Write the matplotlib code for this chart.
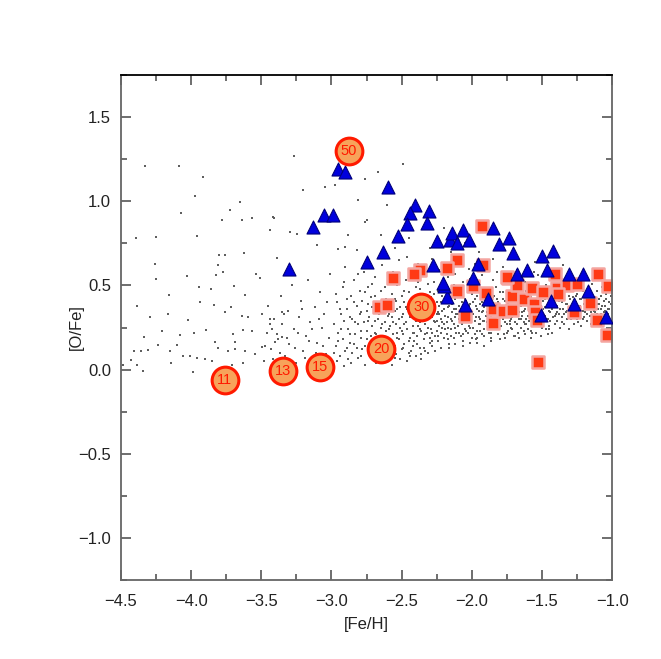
import numpy as np
import matplotlib
matplotlib.use("Agg")
import matplotlib.pyplot as plt

# background cloud of model stars (x=[Fe/H], y=[O/Fe])
cloud_txt = """
-4.329,1.208 -4.084,1.208 -3.913,1.145 -3.973,1.032 -3.650,0.998 -4.072,0.930 -3.723,0.946
-3.780,0.887 -3.640,0.891 -3.568,0.903 -3.412,0.903 -4.395,0.784 -4.250,0.790 -3.960,0.793
-3.440,0.827 -3.296,0.815 -3.800,0.683 -3.761,0.683 -3.620,0.690 -4.255,0.625 -3.806,0.619
-4.250,0.540 -4.028,0.554 -3.820,0.560 -3.775,0.580 -3.536,0.570 -3.510,0.546 -3.390,0.663
-4.156,0.445 -3.942,0.490 -3.861,0.480 -3.693,0.496 -3.616,0.446 -4.388,0.377 -3.940,0.401
-3.837,0.385 -4.291,0.315 -4.167,0.332 -4.025,0.292 -3.759,0.341 -3.716,0.371 -3.640,0.321
-3.593,0.311 -3.497,0.332 -3.438,0.302 -3.355,0.341 -4.334,0.192 -4.210,0.228 -4.077,0.208
-3.978,0.216 -3.896,0.238 -4.234,0.149 -4.103,0.149 -3.830,0.163 -3.700,0.212 -3.628,0.236
-3.568,0.232 -3.426,0.242 -3.355,0.192 -4.407,0.113 -4.357,0.109 -4.310,0.117 -4.151,0.113
-4.056,0.083 -4.008,0.083 -3.960,0.069 -3.901,0.063 -3.806,0.129 -3.735,0.113 -3.687,0.123
-3.616,0.113 -3.545,0.093 -3.497,0.133 -3.402,0.163 -4.483,0.030 -4.431,0.058 -4.388,0.030
-4.345,-0.006 -4.144,0.038 -3.985,-0.016 -3.628,0.038 -3.711,0.030 -3.854,0.054 -3.687,0.163
-3.265,1.270 -3.200,1.065 -3.046,1.085 -2.808,1.006 -2.749,0.887 -2.666,1.175 -2.488,1.224
-2.607,0.976 -3.248,0.808 -3.105,0.738 -2.880,0.798 -2.951,0.718 -2.820,0.708 -2.903,0.728
-2.761,1.135 -2.975,1.095 -3.205,1.065 -3.414,0.907 -2.761,0.877
-2.45,0.78 -2.30,0.72 -2.20,0.84 -2.05,0.75 -1.95,0.70 -1.85,0.66 -1.70,0.68 -1.55,0.64
-1.35,0.62 -2.55,0.72 -2.65,0.80 -2.15,0.70
-3.48,0.05 -3.46,0.22 -3.45,0.38 -3.43,0.12 -3.41,0.30 -3.40,0.02 -3.38,0.18 -3.36,0.44
-3.35,0.27 -3.33,0.08 -3.31,0.35 -3.30,0.15 -3.28,0.50 -3.27,0.24 -3.25,0.04 -3.23,0.31
-3.22,0.41 -3.20,0.11 -3.18,0.20 -3.17,0.53 -3.15,0.28 -3.13,0.06 -3.12,0.37 -3.10,0.16
-3.08,0.46 -3.07,0.25 -3.05,0.33 -3.04,0.09 -3.02,0.19 -3.01,0.57
-3.47,0.14 -3.44,0.27 -3.42,0.06 -3.39,0.21 -3.37,0.10 -3.34,0.33 -3.32,0.19 -3.29,0.03
-3.26,0.13 -3.24,0.22 -3.21,0.36 -3.19,0.07 -3.16,0.17 -3.14,0.24 -3.11,0.10 -3.09,0.30
-3.06,0.14 -3.03,0.40 -3.02,0.05
-2.99,0.03 -2.98,0.27 -2.97,0.14 -2.96,0.40 -2.95,0.22 -2.94,0.08 -2.93,0.33 -2.92,0.49
-2.92,0.18 -2.91,0.29 -2.90,0.11 -2.90,0.61
-2.89,0.36 -2.88,0.06 -2.88,0.24 -2.87,0.16 -2.86,0.44 -2.85,0.30 -2.85,0.10 -2.84,0.53
-2.83,0.21 -2.82,0.38 -2.82,0.13 -2.81,0.27 -2.80,0.47 -2.80,0.33
-2.79,0.08 -2.79,0.19 -2.78,0.41 -2.77,0.28 -2.77,0.58 -2.76,0.14 -2.75,0.35 -2.75,0.23
-2.74,0.49 -2.73,0.11 -2.73,0.31 -2.72,0.20 -2.72,0.43 -2.71,0.26 -2.71,0.37 -2.70,0.16
-2.69,0.55 -2.69,0.29 -2.68,0.09 -2.68,0.21 -2.67,0.39 -2.66,0.33 -2.66,0.15 -2.65,0.47
-2.65,0.25 -2.64,0.62 -2.63,0.19 -2.63,0.36 -2.62,0.12 -2.62,0.28 -2.61,0.42 -2.61,0.23
-2.60,0.32 -2.60,0.51
-2.59,0.17 -2.59,0.38 -2.58,0.26 -2.58,0.10 -2.57,0.45 -2.57,0.31 -2.56,0.21 -2.56,0.58
-2.55,0.35 -2.55,0.14 -2.54,0.27 -2.54,0.41 -2.53,0.22 -2.53,0.50 -2.52,0.30 -2.52,0.18
-2.51,0.37 -2.51,0.25 -2.50,0.44 -2.50,0.12 -2.52,0.65 -2.55,0.07
-2.49,0.33 -2.49,0.21 -2.48,0.40 -2.48,0.15 -2.47,0.28 -2.47,0.53 -2.46,0.36 -2.46,0.24
-2.45,0.10 -2.45,0.46 -2.44,0.31 -2.44,0.19 -2.43,0.38 -2.43,0.60 -2.42,0.26 -2.42,0.14
-2.42,0.43 -2.41,0.34 -2.41,0.22 -2.40,0.29 -2.40,0.49 -2.44,0.08 -2.46,0.67 -2.47,0.37
-2.41,0.17
-2.98,0.10 -2.96,0.05 -2.95,0.17 -2.93,0.24 -2.91,0.02 -2.89,0.13 -2.87,0.21 -2.86,0.04
-2.84,0.15 -2.83,0.28 -2.81,0.07 -2.79,0.23 -2.78,0.12 -2.76,0.03 -2.75,0.18 -2.74,0.29
-2.72,0.08 -2.71,0.14 -2.69,0.22 -2.68,0.04 -2.67,0.17 -2.65,0.11 -2.64,0.27 -2.62,0.06
-2.61,0.18 -2.59,0.24 -2.58,0.14 -2.57,0.03 -2.56,0.28 -2.54,0.09 -2.53,0.19 -2.51,0.06
-2.50,0.23 -2.49,0.13 -2.48,0.27 -2.46,0.05 -2.45,0.17 -2.43,0.11 -2.42,0.22 -2.40,0.08
-2.39,0.15 -2.37,0.24 -2.36,0.06 -2.34,0.13 -2.33,0.21 -2.31,0.10 -2.30,0.19
-2.97,0.45 -2.94,0.36 -2.91,0.52 -2.89,0.42 -2.87,0.31 -2.84,0.40 -2.81,0.57 -2.79,0.34
-2.76,0.46 -2.74,0.39 -2.71,0.51 -2.69,0.44 -2.67,0.30 -2.64,0.41 -2.62,0.49 -2.59,0.33
-2.57,0.54 -2.55,0.42 -2.53,0.36 -2.50,0.31 -2.48,0.47 -2.45,0.40 -2.43,0.33 -2.40,0.41
-2.38,0.52 -2.35,0.38 -2.33,0.35 -2.30,0.46
-2.39,0.32 -2.39,0.20 -2.38,0.41 -2.38,0.26 -2.37,0.13 -2.37,0.48 -2.36,0.35 -2.36,0.23
-2.35,0.29 -2.35,0.56 -2.34,0.18 -2.34,0.39 -2.33,0.27 -2.33,0.44 -2.33,0.11 -2.32,0.33
-2.32,0.22 -2.31,0.51 -2.31,0.30 -2.30,0.37 -2.30,0.16 -2.38,0.63 -2.36,0.09 -2.34,0.31
-2.32,0.42 -2.31,0.25 -2.35,0.45 -2.37,0.28
-2.29,0.24 -2.29,0.43 -2.28,0.31 -2.28,0.14 -2.27,0.36 -2.27,0.52 -2.26,0.20 -2.26,0.28
-2.25,0.40 -2.25,0.33 -2.24,0.17 -2.24,0.47 -2.23,0.26 -2.23,0.38 -2.23,0.59 -2.22,0.22
-2.22,0.30 -2.21,0.44 -2.21,0.35 -2.20,0.19 -2.20,0.27 -2.28,0.66 -2.26,0.11 -2.24,0.34
-2.22,0.49 -2.21,0.25 -2.27,0.29 -2.25,0.23
-2.19,0.32 -2.19,0.41 -2.18,0.21 -2.18,0.28 -2.17,0.37 -2.17,0.55 -2.16,0.15 -2.16,0.45
-2.15,0.30 -2.15,0.24 -2.14,0.39 -2.14,0.34 -2.13,0.19 -2.13,0.50 -2.13,0.27 -2.12,0.42
-2.12,0.31 -2.11,0.22 -2.11,0.36 -2.10,0.26 -2.10,0.47 -2.18,0.62 -2.16,0.13 -2.14,0.29
-2.12,0.57 -2.11,0.33 -2.17,0.25 -2.15,0.43
-2.09,0.30 -2.09,0.38 -2.08,0.20 -2.08,0.44 -2.07,0.27 -2.07,0.33 -2.06,0.52 -2.06,0.17
-2.05,0.36 -2.05,0.24 -2.04,0.41 -2.04,0.29 -2.03,0.22 -2.03,0.48 -2.03,0.34 -2.02,0.60
-2.02,0.26 -2.01,0.39 -2.01,0.31 -2.00,0.19 -2.00,0.45 -2.08,0.68 -2.06,0.14 -2.04,0.35
-2.02,0.28 -2.01,0.54 -2.07,0.40 -2.05,0.31
-1.99,0.33 -1.99,0.25 -1.98,0.42 -1.98,0.29 -1.97,0.18 -1.97,0.50 -1.96,0.36 -1.96,0.23
-1.95,0.31 -1.95,0.46 -1.94,0.27 -1.94,0.39 -1.93,0.21 -1.93,0.56 -1.93,0.34 -1.92,0.29
-1.92,0.43 -1.91,0.24 -1.91,0.37 -1.90,0.32 -1.90,0.48 -1.98,0.63 -1.96,0.16 -1.94,0.30
-1.92,0.62 -1.91,0.20 -1.97,0.38 -1.95,0.27
-1.89,0.28 -1.89,0.41 -1.88,0.34 -1.88,0.22 -1.87,0.47 -1.87,0.30 -1.86,0.38 -1.86,0.19
-1.85,0.26 -1.85,0.53 -1.84,0.33 -1.84,0.44 -1.83,0.24 -1.83,0.36 -1.82,0.29 -1.82,0.58
-1.81,0.40 -1.81,0.21 -1.80,0.31 -1.80,0.46 -1.88,0.60 -1.86,0.17 -1.84,0.27 -1.83,0.49
-1.82,0.35 -1.87,0.25
-1.79,0.35 -1.79,0.26 -1.78,0.42 -1.78,0.30 -1.77,0.21 -1.77,0.51 -1.76,0.37 -1.76,0.28
-1.75,0.45 -1.75,0.33 -1.74,0.23 -1.74,0.39 -1.73,0.29 -1.73,0.56 -1.72,0.36 -1.72,0.25
-1.71,0.43 -1.71,0.31 -1.70,0.20 -1.70,0.48 -1.78,0.61 -1.76,0.19 -1.75,0.34 -1.73,0.27
-1.72,0.53 -1.71,0.38
-1.69,0.33 -1.69,0.41 -1.68,0.27 -1.68,0.50 -1.67,0.36 -1.67,0.22 -1.66,0.30 -1.66,0.45
-1.65,0.38 -1.65,0.25 -1.64,0.55 -1.64,0.32 -1.63,0.42 -1.63,0.28 -1.62,0.21 -1.62,0.36
-1.61,0.47 -1.61,0.30 -1.60,0.39 -1.60,0.24 -1.68,0.59 -1.66,0.19 -1.64,0.34 -1.62,0.52
-1.61,0.27
-1.59,0.35 -1.59,0.29 -1.58,0.43 -1.58,0.23 -1.57,0.38 -1.57,0.51 -1.56,0.31 -1.56,0.26
-1.55,0.46 -1.55,0.34 -1.54,0.22 -1.54,0.40 -1.53,0.30 -1.53,0.56 -1.52,0.37 -1.52,0.27
-1.51,0.44 -1.51,0.32 -1.50,0.25 -1.50,0.49 -1.58,0.19 -1.56,0.58 -1.54,0.36 -1.52,0.41
-1.49,0.36 -1.49,0.28 -1.48,0.42 -1.48,0.32 -1.47,0.24 -1.47,0.50 -1.46,0.38 -1.46,0.30
-1.45,0.45 -1.45,0.26 -1.44,0.34 -1.44,0.53 -1.43,0.40 -1.43,0.22 -1.42,0.31 -1.42,0.47
-1.41,0.37 -1.41,0.27 -1.40,0.43 -1.40,0.33 -1.46,0.21 -1.44,0.57
-1.39,0.38 -1.39,0.29 -1.38,0.45 -1.38,0.33 -1.37,0.25 -1.37,0.51 -1.36,0.40 -1.36,0.31
-1.35,0.36 -1.35,0.47 -1.34,0.27 -1.34,0.42 -1.33,0.34 -1.33,0.55 -1.32,0.30 -1.32,0.39
-1.31,0.44 -1.31,0.24 -1.30,0.35 -1.30,0.49
-1.29,0.37 -1.29,0.30 -1.28,0.43 -1.28,0.34 -1.27,0.27 -1.27,0.49 -1.26,0.40 -1.26,0.32
-1.25,0.45 -1.25,0.36 -1.24,0.28 -1.24,0.52 -1.23,0.38 -1.23,0.33 -1.22,0.42 -1.22,0.26
-1.21,0.47 -1.21,0.35 -1.20,0.39 -1.20,0.31
-1.19,0.44 -1.19,0.34 -1.18,0.38 -1.18,0.29 -1.17,0.48 -1.17,0.41 -1.16,0.32 -1.16,0.36
-1.15,0.45 -1.15,0.27 -1.14,0.40 -1.14,0.51 -1.13,0.35 -1.13,0.30 -1.12,0.43 -1.12,0.38
-1.11,0.33 -1.11,0.47
-1.09,0.39 -1.09,0.31 -1.08,0.44 -1.08,0.36 -1.07,0.29 -1.07,0.49 -1.06,0.41 -1.06,0.34
-1.05,0.38 -1.05,0.46 -1.04,0.32 -1.04,0.42 -1.03,0.36 -1.02,0.40 -1.02,0.30 -1.01,0.44
-2.29,0.35 -2.28,0.22 -2.27,0.45 -2.26,0.38 -2.25,0.29 -2.24,0.20 -2.23,0.33 -2.22,0.40
-2.21,0.28 -2.20,0.36 -2.19,0.24 -2.18,0.46 -2.17,0.31 -2.16,0.38 -2.15,0.20 -2.14,0.45
-2.13,0.36 -2.12,0.25 -2.11,0.43 -2.10,0.33 -2.09,0.22 -2.08,0.36 -2.07,0.47 -2.06,0.29
-2.05,0.42 -2.04,0.23 -2.03,0.30 -2.02,0.38 -2.01,0.25 -2.00,0.34 -1.99,0.40 -1.98,0.21
-1.97,0.31 -1.96,0.44 -1.95,0.35 -1.94,0.23 -1.93,0.40 -1.92,0.35 -1.91,0.29 -1.90,0.41
-1.89,0.34 -1.88,0.27 -1.87,0.39 -1.86,0.31 -1.85,0.43 -1.84,0.37 -1.83,0.30 -1.82,0.42
-1.81,0.26 -1.80,0.37 -1.79,0.31 -1.78,0.46 -1.77,0.33 -1.76,0.41 -1.75,0.27 -1.74,0.35
-1.73,0.43 -1.72,0.30 -1.71,0.24 -1.70,0.34 -1.69,0.28 -1.68,0.38 -1.67,0.44 -1.66,0.34
-1.65,0.30 -1.64,0.40 -1.63,0.35 -1.62,0.27 -1.61,0.41 -1.60,0.32 -1.59,0.40 -1.58,0.33
-1.57,0.28 -1.56,0.42 -1.55,0.30 -1.54,0.45 -1.53,0.35 -1.52,0.32 -1.51,0.38 -1.50,0.29
-1.49,0.41 -1.48,0.37 -1.47,0.30 -1.46,0.43 -1.45,0.35 -1.44,0.29 -1.43,0.36 -1.42,0.40
-1.41,0.32 -1.40,0.38 -1.39,0.34 -1.38,0.41 -1.37,0.36 -1.36,0.28 -1.35,0.42 -1.34,0.33
-1.33,0.39 -1.32,0.35 -1.31,0.31 -1.30,0.42 -1.29,0.34 -1.28,0.39 -1.27,0.32 -1.26,0.44
-1.25,0.30 -1.24,0.37 -1.23,0.42 -1.22,0.35 -1.21,0.30 -1.20,0.44 -1.19,0.38 -1.18,0.33
-1.17,0.36 -1.16,0.43 -1.15,0.34 -1.14,0.31 -1.13,0.40 -1.12,0.34 -1.11,0.39 -1.10,0.36
-1.09,0.42 -1.08,0.33 -1.07,0.38 -1.06,0.30 -1.05,0.35 -1.04,0.45 -1.03,0.33 -1.02,0.36
-1.01,0.39
-2.28,0.17 -2.22,0.13 -2.17,0.18 -2.12,0.15 -2.06,0.21 -2.01,0.16 -1.96,0.19 -1.91,0.14
-1.86,0.22 -1.80,0.18 -1.75,0.22 -1.69,0.20 -1.63,0.23 -1.57,0.22 -1.51,0.20 -1.45,0.24
"""
cloud = np.array([[float(v) for v in p.split(",")] for p in cloud_txt.split()])
cloud_feh = cloud[:, 0]
cloud_ofe = cloud[:, 1]

# observed stars (blue triangles)
tri_feh = [-2.95, -2.90, -2.595, -3.053, -2.987, -3.134, -3.30, -2.749, -2.635, -2.528,
           -2.404, -2.44, -2.305, -2.317, -2.464, -2.245, -2.155, -2.143, -2.065, -2.107,
           -2.017, -1.846, -1.735, -1.806, -1.708, -1.502, -1.42, -1.466, -1.31, -1.205,
           -1.17, -1.27, -1.437, -1.508, -1.043, -1.675, -1.608, -1.953, -1.993, -1.886,
           -2.05, -2.18, -2.196, -2.203, -2.274]
tri_ofe = [1.195, 1.175, 1.085, 0.917, 0.917, 0.847, 0.60, 0.639, 0.698, 0.792,
           0.976, 0.93, 0.942, 0.871, 0.863, 0.762, 0.772, 0.811, 0.832, 0.752,
           0.772, 0.841, 0.782, 0.748, 0.692, 0.673, 0.702, 0.589, 0.57, 0.57,
           0.47, 0.391, 0.41, 0.325, 0.311, 0.57, 0.589, 0.629, 0.546, 0.421,
           0.381, 0.43, 0.494, 0.514, 0.619]

# observed stars (red squares)
sq_feh = [-1.93, -2.107, -2.178, -2.369, -2.41, -2.564, -2.66, -2.602, -1.918, -2.107,
          -1.988, -2.048, -1.898, -1.85, -1.846, -1.78, -1.715, -1.715, -1.74, -1.68,
          -1.628, -1.573, -1.554, -1.495, -1.549, -1.537, -1.407, -1.395, -1.323, -1.252,
          -1.383, -1.271, -1.157, -1.098, -1.109, -1.027, -1.034, -1.525, -1.752]
sq_ofe = [0.851, 0.649, 0.605, 0.593, 0.57, 0.546, 0.371, 0.381, 0.619, 0.47,
          0.494, 0.321, 0.454, 0.361, 0.276, 0.347, 0.355, 0.44, 0.546, 0.50,
          0.42, 0.486, 0.391, 0.46, 0.341, 0.292, 0.57, 0.486, 0.50, 0.51,
          0.45, 0.341, 0.395, 0.57, 0.292, 0.494, 0.208, 0.044, 0.55]

# labelled model points (orange circles)
circ_feh = [-3.76, -3.345, -3.08, -2.647, -2.36, -2.875]
circ_ofe = [-0.06, -0.006, 0.018, 0.125, 0.369, 1.30]
circ_lab = ["11", "13", "15", "20", "30", "50"]

plt.rcParams['font.family'] = ['Liberation Sans', 'DejaVu Sans']

fig = plt.figure(figsize=(6.61, 6.59), dpi=100)
ax = fig.add_axes([0.183, 0.12, 0.743, 0.766])

ax.scatter(cloud_feh, cloud_ofe, s=3.2, marker='s', c='#5e5e5e', linewidths=0, zorder=1)
ax.scatter(sq_feh, sq_ofe, s=68, marker='s', c='#ff3a14', edgecolors='#f4a5a0',
           linewidths=1.8, zorder=2)
ax.scatter(tri_feh, tri_ofe, s=88, marker='^', c='#0000dd', edgecolors='#00007a',
           linewidths=0.8, zorder=3)
ax.scatter(circ_feh, circ_ofe, s=370, marker='o', c='#f7a35a', edgecolors='#ff1a00',
           linewidths=2.2, zorder=4)
for xx, yy, lab in zip(circ_feh, circ_ofe, circ_lab):
    ax.text(xx, yy, lab, color='#ff1a00', fontsize=10.5, ha='center', va='center', zorder=5)

ax.set_xlim(-4.5, -1.0)
ax.set_ylim(-1.25, 1.75)
ax.set_xticks(np.arange(-4.5, -0.99, 0.5))
ax.set_xticks(np.arange(-4.5, -0.99, 0.25), minor=True)
ax.set_yticks([-1.0, -0.5, 0.0, 0.5, 1.0, 1.5])
ax.set_yticks(np.arange(-1.25, 1.76, 0.25), minor=True)
ax.set_xticklabels(['\u22124.5', '\u22124.0', '\u22123.5', '\u22123.0', '\u22122.5',
                    '\u22122.0', '\u22121.5', '\u22121.0'])
ax.set_yticklabels(['\u22121.0', '\u22120.5', '0.0', '0.5', '1.0', '1.5'])

ax.tick_params(which='both', direction='in', top=True, right=True,
               color='#555555', width=1.2, labelsize=12, labelcolor='#222222')
ax.tick_params(axis='x', which='both', pad=10)
ax.tick_params(axis='y', which='both', pad=7)
ax.tick_params(which='major', length=7)
ax.tick_params(which='minor', length=4)
for side in ['left', 'bottom', 'right']:
    ax.spines[side].set_color('#666666')
    ax.spines[side].set_linewidth(1.3)
ax.spines['top'].set_color('black')
ax.spines['top'].set_linewidth(1.3)

ax.set_xlabel('[Fe/H]', fontsize=12, color='#222222')
ax.set_ylabel('[O/Fe]', fontsize=12, color='#222222')
ax.xaxis.set_label_coords(0.5, -0.073)
ax.yaxis.set_label_coords(-0.075, 0.5)

fig.savefig('out.png', dpi=100)
